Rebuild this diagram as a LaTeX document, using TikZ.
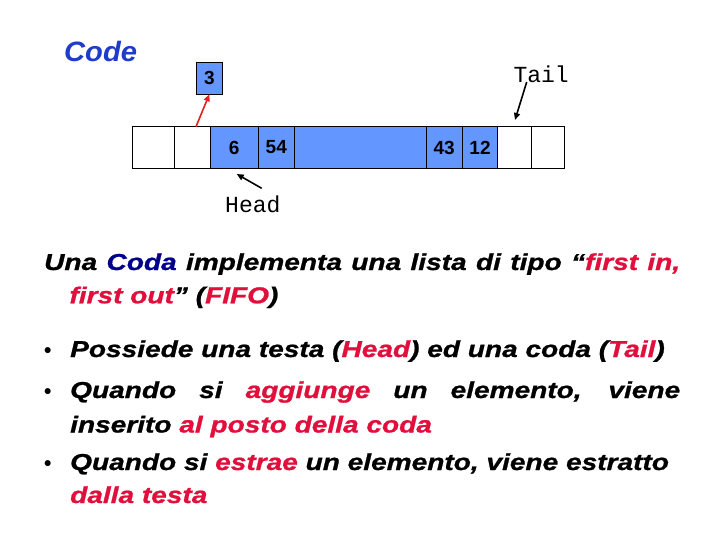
\documentclass[tikz,border=0pt]{standalone}
\usepackage{fontspec}
\setmainfont{Liberation Sans}
\newfontfamily\monofont{Liberation Mono}
\newfontfamily\bodyfont[FakeStretch=1.22,BoldItalicFeatures={FakeBold=1}]{Liberation Sans}
\newfontfamily\titlefont[FakeStretch=1.04]{Liberation Sans}
\usetikzlibrary{arrows.meta}
\definecolor{cellblue}{RGB}{100,150,255}
\definecolor{titleblue}{RGB}{30,60,200}
\definecolor{navy}{RGB}{0,0,140}
\definecolor{hired}{RGB}{225,15,60}
\definecolor{arrred}{RGB}{230,30,30}
\newcommand{\rd}[1]{\textcolor{hired}{#1}}
\begin{document}
\begin{tikzpicture}[x=1pt,y=-1pt,
  cell/.style={draw=black,line width=0.8pt,minimum height=41.6pt,inner sep=0pt,outer sep=0pt,font=\fontsize{19}{19}\selectfont\bfseries},
  full/.style={cell,fill=cellblue},
  body/.style={anchor=base west,inner sep=0pt,font=\bodyfont\fontsize{23}{23}\selectfont\bfseries\itshape},
  bul/.style={anchor=base west,inner sep=0pt,font=\fontsize{21}{21}\selectfont\bfseries},
  mono/.style={anchor=base west,inner sep=0pt,font=\fontsize{23}{23}\selectfont\monofont},
  arr/.style={line width=1.6pt,-{Triangle[length=7pt,width=6pt]}}]
\useasboundingbox[fill=white] (0,0) rectangle (720,540);
% title
\node[anchor=base west,inner sep=0pt,font=\titlefont\fontsize{28}{28}\selectfont\bfseries\itshape,text=titleblue] (title) at (64,61.7) {Code};
% array cells
\node[cell,minimum width=42pt] (c1) at (153.3,147.5) {};
\node[cell,minimum width=35.7pt] (c2) at (192.15,147.5) {};
\node[full,minimum width=48.3pt] (c3) at (234.15,147.5) {6};
\node[full,minimum width=36pt] (c4) at (276.3,147.5) {54};
\node[full,minimum width=131.7pt] (c5) at (360.15,147.5) {};
\node[full,minimum width=36.3pt] (c6) at (444.15,147.5) {43};
\node[full,minimum width=35.4pt] (c7) at (480,147.5) {12};
\node[cell,minimum width=34pt] (c8) at (514.7,147.5) {};
\node[cell,minimum width=32.6pt] (c9) at (548,147.5) {};
% extracted element
\node[full,minimum width=26.7pt,minimum height=32pt] (b3) at (209.35,78.3) {3};
% labels
\node[mono] (tail) at (513.3,82.3) {Tail};
\node[mono] (head) at (225,212.7) {Head};
% arrows
\coordinate (rs) at (196,126.7);
\coordinate (ts) at (526.7,82);
\coordinate (te) at (515,120);
\coordinate (hs) at (261.7,188.3);
\coordinate (he) at (236.7,174);
\draw[arr,arrred] (rs) -- (b3.south);
\draw[arr,black] (ts) -- (te);
\draw[arr,black] (hs) -- (he);
% body text
\node[body] (l1) at (44,270) {\makebox[636pt][s]{Una \textcolor{navy}{Coda} implementa una lista di tipo “\rd{first in,}}};
\node[body] (l2) at (69.3,303.3) {\rd{first out}” (\rd{FIFO})};
\node[bul] (b1) at (44,357) {•};
\node[body] (l3) at (70,357) {Possiede una testa (\rd{Head}) ed una coda (\rd{Tail})};
\node[bul] (b2) at (44,398) {•};
\node[body] (l4) at (70,398) {\makebox[610pt][s]{Quando si \rd{aggiunge} un elemento, viene}};
\node[body] (l5) at (70,432.5) {inserito \rd{al posto della coda}};
\node[bul] (b3b) at (44,470) {•};
\node[body] (l6) at (70,470) {Quando si \rd{estrae} un elemento, viene estratto};
\node[body] (l7) at (70,503) {\rd{dalla testa}};
\end{tikzpicture}
\end{document}
